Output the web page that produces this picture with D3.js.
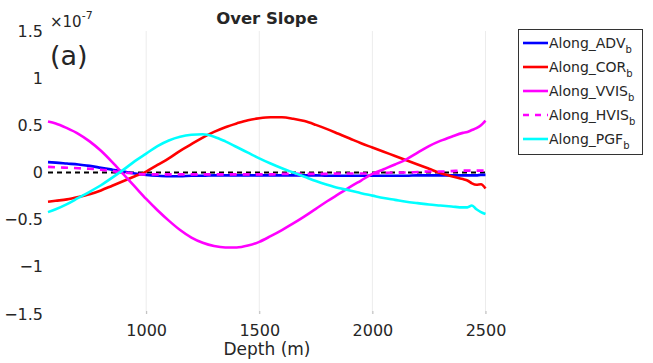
<!DOCTYPE html>
<html>
<head>
<meta charset="utf-8">
<script src="https://cdn.jsdelivr.net/npm/d3@7"></script>
<style>
  body { margin: 0; background: #fff; }
  text { font-family: "DejaVu Sans", sans-serif; fill: #262626; }
</style>
</head>
<body>
<svg id="chart" width="653" height="363"></svg>
<script>
// Depth samples (m)
const depth = [566, 600, 650, 700, 750, 800, 850, 900, 950, 1000, 1050, 1100, 1150, 1200, 1250,
  1300, 1350, 1400, 1450, 1500, 1550, 1600, 1650, 1700, 1750, 1800, 1850, 1900, 1950, 2000,
  2050, 2100, 2150, 2200, 2250, 2300, 2350, 2400, 2420, 2440, 2460, 2480, 2500];

// values in units of 1e-7
const advB = [0.11, 0.105, 0.095, 0.085, 0.07, 0.05, 0.03, 0.01, -0.01, -0.025, -0.035, -0.04, -0.04, -0.035, -0.035,
  -0.03, -0.03, -0.03, -0.03, -0.03, -0.03, -0.03, -0.03, -0.03, -0.03, -0.035, -0.035, -0.035, -0.035, -0.035,
  -0.035, -0.035, -0.035, -0.03, -0.03, -0.03, -0.03, -0.03, -0.03, -0.03, -0.03, -0.025, -0.025];
const corB = [-0.31, -0.30, -0.285, -0.26, -0.23, -0.19, -0.14, -0.09, -0.04, 0.01, 0.08, 0.15, 0.23, 0.30, 0.37,
  0.43, 0.48, 0.52, 0.555, 0.575, 0.585, 0.585, 0.57, 0.545, 0.505, 0.46, 0.41, 0.36, 0.31, 0.265,
  0.22, 0.175, 0.13, 0.085, 0.04, -0.005, -0.04, -0.07, -0.085, -0.115, -0.13, -0.125, -0.17];
const vvisB = [0.54, 0.52, 0.47, 0.41, 0.33, 0.23, 0.11, -0.02, -0.15, -0.28, -0.40, -0.51, -0.61, -0.69, -0.745,
  -0.78, -0.795, -0.795, -0.775, -0.735, -0.675, -0.61, -0.54, -0.465, -0.385, -0.305, -0.23, -0.155, -0.085, -0.015,
  0.035, 0.085, 0.14, 0.21, 0.28, 0.335, 0.38, 0.42, 0.43, 0.45, 0.47, 0.50, 0.55];
const hvisB = [0.06, 0.055, 0.05, 0.045, 0.04, 0.03, 0.015, 0.0, -0.01, -0.02, -0.02, -0.02, -0.02, -0.02, -0.02,
  -0.02, -0.02, -0.02, -0.02, -0.02, -0.02, -0.015, -0.015, -0.015, -0.015, -0.015, -0.01, -0.01, -0.01, -0.01,
  -0.005, 0.0, 0.0, 0.005, 0.01, 0.01, 0.015, 0.02, 0.02, 0.02, 0.02, 0.02, 0.02];
const pgfB = [-0.42, -0.39, -0.335, -0.27, -0.205, -0.135, -0.055, 0.03, 0.12, 0.20, 0.28, 0.34, 0.38, 0.40, 0.405,
  0.38, 0.33, 0.27, 0.21, 0.15, 0.095, 0.045, 0.0, -0.045, -0.09, -0.13, -0.165, -0.19, -0.22, -0.245,
  -0.27, -0.29, -0.31, -0.325, -0.34, -0.35, -0.36, -0.37, -0.37, -0.35, -0.39, -0.42, -0.44];

const seriesNames = ["Along_ADV", "Along_COR", "Along_VVIS", "Along_HVIS", "Along_PGF"];
const seriesValues = [advB, corB, vvisB, hvisB, pgfB];
const seriesColors = ["#0000ff", "#ff0000", "#ff00ff", "#ff00ff", "#00ffff"];
const seriesDash = [null, null, null, "7,6", null];

const xTicks = [1000, 1500, 2000, 2500];
const yTicks = [1.5, 1, 0.5, 0, -0.5, -1, -1.5];

const svg = d3.select("#chart");

const x = d3.scaleLinear().domain([566, 2500]).range([48, 485.5]);
const y = d3.scaleLinear().domain([-1.5, 1.5]).range([314, 31]);

// grid lines
svg.append("g")
  .selectAll("line")
  .data(xTicks)
  .join("line")
  .attr("x1", d => x(d)).attr("x2", d => x(d))
  .attr("y1", y(1.5)).attr("y2", y(-1.5))
  .attr("stroke", "#ececec")
  .attr("stroke-width", 1);

// x axis
const xAxis = svg.append("g")
  .attr("transform", `translate(0,${y(-1.5)})`)
  .call(d3.axisBottom(x).tickValues(xTicks).tickFormat(d3.format("d")).tickSize(-3).tickPadding(11));
xAxis.select(".domain").remove();
xAxis.selectAll(".tick line").attr("stroke", "#bbb");
xAxis.selectAll("text").style("font-size", "16px").attr("fill", "#262626");

// y axis
const yAxis = svg.append("g")
  .attr("transform", `translate(44,0)`)
  .call(d3.axisLeft(y).tickValues(yTicks).tickSize(0).tickPadding(1).tickFormat(d3.format("")));
yAxis.select(".domain").remove();
yAxis.selectAll("text").style("font-size", "16px").attr("fill", "#262626");

// zero line
svg.append("line")
  .attr("x1", x(566)).attr("x2", x(2500))
  .attr("y1", y(0)).attr("y2", y(0))
  .attr("stroke", "#000")
  .attr("stroke-width", 1.8)
  .attr("stroke-dasharray", "5,4");

// series
const line = d3.line()
  .x(d => x(d[0]))
  .y(d => y(d[1]))
  .curve(d3.curveMonotoneX);

seriesValues.forEach((vals, i) => {
  svg.append("path")
    .datum(depth.map((d, j) => [d, vals[j]]))
    .attr("fill", "none")
    .attr("stroke", seriesColors[i])
    .attr("stroke-width", 2.6)
    .attr("stroke-dasharray", seriesDash[i])
    .attr("d", line);
});

// title & annotations
svg.append("text")
  .attr("x", 267).attr("y", 24)
  .attr("text-anchor", "middle")
  .style("font-size", "16.5px").style("font-weight", "bold")
  .attr("fill", "#000")
  .text("Over Slope");

const expo = svg.append("text").attr("x", 50).attr("y", 27).style("font-size", "15px");
expo.append("tspan").text("\u00d710");
expo.append("tspan").attr("dy", -8).style("font-size", "11px").text("-7");

svg.append("text")
  .attr("x", 50).attr("y", 65)
  .style("font-size", "27px")
  .attr("fill", "#000")
  .text("(a)");

svg.append("text")
  .attr("x", 267).attr("y", 355)
  .attr("text-anchor", "middle")
  .style("font-size", "17px")
  .text("Depth (m)");

// legend
const legend = svg.append("g");
legend.append("rect")
  .attr("x", 518.5).attr("y", 29.5)
  .attr("width", 124).attr("height", 125)
  .attr("fill", "#fff")
  .attr("stroke", "#333")
  .attr("stroke-width", 1);

seriesNames.forEach((name, i) => {
  const ly = 43 + i * 24;
  legend.append("line")
    .attr("x1", 523).attr("x2", 548)
    .attr("y1", ly).attr("y2", ly)
    .attr("stroke", seriesColors[i])
    .attr("stroke-width", 2.6)
    .attr("stroke-dasharray", seriesDash[i] ? "6,6" : null);
  const t = legend.append("text")
    .attr("x", 549).attr("y", ly + 5)
    .style("font-size", "14px");
  t.append("tspan").text(name);
  t.append("tspan").attr("dy", 5).style("font-size", "10px").text("b");
});
</script>
</body>
</html>
